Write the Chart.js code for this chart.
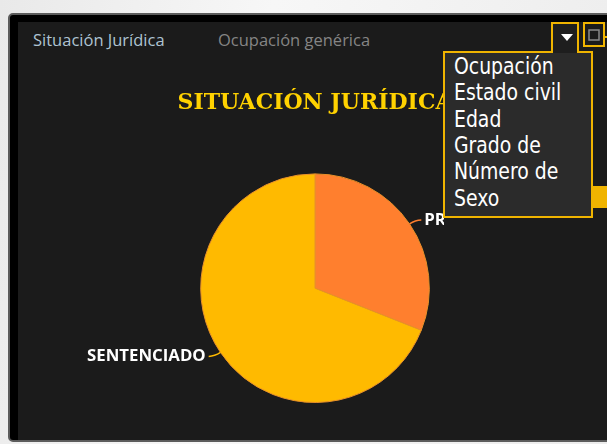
<!DOCTYPE html>
<html>
<head>
<meta charset="utf-8">
<script src="https://cdn.jsdelivr.net/npm/chart.js@4"></script>
<style>
  html, body { margin: 0; padding: 0; }
  body {
    width: 607px; height: 444px; overflow: hidden; position: relative;
    background: linear-gradient(100deg, #e9e9e9 0%, #f7f7f7 40%, #ececec 100%);
  }
  .frame {
    position: absolute; left: 8px; top: 13px; width: 640px; height: 425px;
    border: 2px solid #5c5c5c; border-radius: 5px; background: #000;
  }
  .panel {
    position: absolute; left: 18px; top: 22px; width: 640px; height: 418px;
    background: #1b1b1b;
  }
  .tab {
    position: absolute; top: 28px; font-family: "Open Sans", sans-serif; font-size: 16.5px;
  }
  #chart { position: absolute; left: 0; top: 0; }
  .menu {
    position: absolute; left: 444px; top: 52px; width: 148px; height: 165px;
    font-family: "Liberation Sans Narrow", "DejaVu Sans Condensed", sans-serif;
    font-size: 23px; color: #fff;
  }
  .menu div {
    position: absolute; left: 10px; line-height: 26px; white-space: nowrap;
    transform: scaleX(0.91); transform-origin: 0 50%;
  }
  svg { position: absolute; left: 0; top: 0; }
</style>
</head>
<body>
<div class="frame"></div>
<div class="panel"></div>
<div class="tab" style="left:33px; color:#aec3d2;">Situación Jurídica</div>
<div class="tab" style="left:218px; color:#858585;">Ocupación genérica</div>
<canvas id="chart" width="607" height="444"></canvas>
<svg width="607" height="444">
  <rect x="444" y="218" width="148" height="7" fill="#1b1b1b"/>
  <rect x="593" y="186" width="14" height="22" fill="#f0b400"/>
  <rect x="444" y="52" width="148" height="165" fill="#2b2b2b"/>
  <rect x="552" y="23" width="26" height="30" fill="#1e1e1e"/>
  <path d="M444,52 H552 V23 H578 V52 H592 V217 H444 Z" fill="none" stroke="#f0b400" stroke-width="2"/>
  <polygon points="561,34 573,34 567,41" fill="#fff"/>
  <rect x="584" y="23" width="20" height="23" fill="none" stroke="#f0b400" stroke-width="2"/>
  <rect x="589" y="30" width="10" height="10" fill="none" stroke="#8a8a8a" stroke-width="1.5"/>
  <line x1="604" y1="37" x2="607" y2="37" stroke="#f0b400" stroke-width="2"/>
</svg>
<div class="menu" id="menu"></div>
<script>
// Chart data
const sliceLabels = ['PROCESADO', 'SENTENCIADO'];
const sliceValues = [31, 69];
const sliceColors = ['#ff7f2e', '#ffba00'];
const menuItems = ['Ocupación', 'Estado civil', 'Edad', 'Grado de', 'Número de', 'Sexo'];

// Dropdown items
const menu = document.getElementById('menu');
menuItems.forEach((t, i) => {
    const d = document.createElement('div');
    d.textContent = t;
    d.style.top = (1 + i * 26.3) + 'px';
    menu.appendChild(d);
});

// Outside labels with short leader lines
const outsideLabels = {
    id: 'outsideLabels',
    afterDatasetsDraw(chart) {
        const ctx = chart.ctx;
        const meta = chart.getDatasetMeta(0);
        meta.data.forEach((arc, i) => {
            const p = arc.getProps(['x', 'y', 'startAngle', 'endAngle', 'outerRadius'], true);
            const mid = (p.startAngle + p.endAngle) / 2;
            const cos = Math.cos(mid), sin = Math.sin(mid);
            const x0 = p.x + cos * p.outerRadius;
            const y0 = p.y + sin * p.outerRadius;
            const x1 = p.x + cos * (p.outerRadius + 7);
            const y1 = p.y + sin * (p.outerRadius + 7);
            const dir = cos >= 0 ? 1 : -1;
            const x2 = x1 + dir * 6;
            ctx.save();
            ctx.strokeStyle = sliceColors[i];
            ctx.lineWidth = 1.5;
            ctx.beginPath();
            ctx.moveTo(x0, y0);
            ctx.quadraticCurveTo(x1, y1, x2, y1);
            ctx.stroke();
            ctx.fillStyle = '#ffffff';
            ctx.font = 'bold 16.8px "Open Sans", sans-serif';
            ctx.textBaseline = 'middle';
            ctx.textAlign = dir > 0 ? 'left' : 'right';
            ctx.fillText(sliceLabels[i], x2 + dir * 3, y1);
            ctx.restore();
        });
    }
};

new Chart(document.getElementById('chart'), {
    type: 'pie',
    data: {
        labels: sliceLabels,
        datasets: [{
            data: sliceValues,
            backgroundColor: sliceColors,
            borderColor: '#e8902a',
            borderWidth: 1
        }]
    },
    options: {
        responsive: false,
        animation: false,
        layout: { padding: { left: 23, right: 0, top: 0, bottom: 41 } },
        plugins: {
            legend: { display: false },
            tooltip: { enabled: false },
            title: {
                display: true,
                text: 'SITUACIÓN JURÍDICA',
                color: '#ffd200',
                font: { family: '"DejaVu Serif", serif', size: 22, weight: 'bold' },
                lineHeight: 1.1,
                padding: { top: 90, bottom: 57 }
            }
        }
    },
    plugins: [outsideLabels]
});
</script>
</body>
</html>
